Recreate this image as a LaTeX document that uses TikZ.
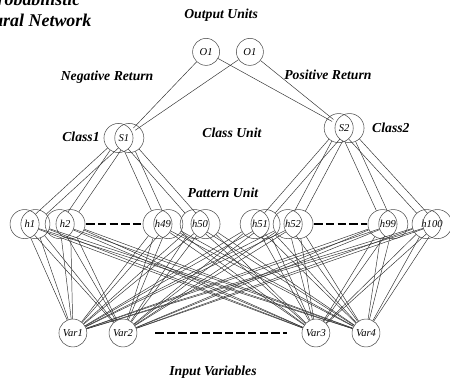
\documentclass[tikz,border=0pt]{standalone}
\usepackage{fontspec}
\setmainfont{Liberation Serif}
\usetikzlibrary{positioning}

\tikzset{
    unit/.style={shape=circle, draw=black!70, line width=0.5pt, minimum size=0.97cm, inner sep=0pt, font=\fontsize{10}{12}\selectfont\itshape},
    pairlabel/.style={shape=circle, minimum size=0.9cm, inner sep=0pt, font=\fontsize{10}{12}\selectfont\itshape},
    caption/.style={font=\fontsize{13}{15}\selectfont\bfseries\itshape},
    titletext/.style={font=\fontsize{17}{20}\selectfont\bfseries\itshape, anchor=base east},
    link/.style={draw=black!80, line width=0.45pt},
    gap/.style={line width=1.6pt, dash pattern=on 8pt off 3pt},
}

% two overlapping circles with one label: name, x, y, text
\newcommand{\pairnode}[4]{
    \node[pairlabel] (#1) at (#2,#3) {#4};
    \node[unit] (#1l) at ([xshift=-1.8mm]#1) {};
    \node[unit] (#1r) at ([xshift=1.8mm]#1) {};
}

\begin{document}
\begin{tikzpicture}
    \useasboundingbox (0,0) rectangle (15,-12.83);

    % captions
    \node[titletext] (title1) at (2.8,-0.17) {Probabilistic};
    \node[titletext] (title2) at (3.17,-0.88) {Neural Network};
    \node[caption] (outlabel) at (7.37,-0.5) {Output Units};
    \node[caption] (neglabel) at (3.57,-2.57) {Negative Return};
    \node[caption] (poslabel) at (10.93,-2.5) {Positive Return};
    \node[caption] (class1) at (2.7,-4.57) {Class1};
    \node[caption] (classunit) at (7.73,-4.43) {Class Unit};
    \node[caption] (class2) at (13.03,-4.27) {Class2};
    \node[caption] (patternunit) at (7.43,-6.43) {Pattern Unit};
    \node[caption] (inlabel) at (7.1,-12.4) {Input Variables};

    % output units
    \node[unit, minimum size=0.9cm] (O1a) at (6.87,-1.73) {O1};
    \node[unit, minimum size=0.9cm] (O1b) at (8.33,-1.73) {O1};

    % class units
    \pairnode{S1}{4.13}{-4.6}{S1}
    \pairnode{S2}{11.47}{-4.27}{S2}

    % pattern units
    \pairnode{h1}{1.0}{-7.47}{h1}
    \pairnode{h2}{2.17}{-7.47}{h2}
    \pairnode{h49}{5.43}{-7.47}{h49}
    \pairnode{h50}{6.67}{-7.47}{h50}
    \pairnode{h51}{8.67}{-7.47}{h51}
    \pairnode{h52}{9.77}{-7.47}{h52}
    \pairnode{h99}{12.93}{-7.47}{h99}
    \pairnode{h100}{14.4}{-7.47}{h100}

    % input variables
    \node[unit, minimum size=0.93cm] (V1) at (2.43,-11.1) {Var1};
    \node[unit, minimum size=0.93cm] (V2) at (4.1,-11.1) {Var2};
    \node[unit, minimum size=0.93cm] (V3) at (10.53,-11.1) {Var3};
    \node[unit, minimum size=0.93cm] (V4) at (12.2,-11.1) {Var4};

    % dashes for the units left out
    \draw[gap, shorten <=1pt, shorten >=1pt] (h2r) -- (h49l);
    \draw[gap, shorten <=1pt, shorten >=1pt] (h52r) -- (h99l);
    \draw[gap, shorten <=0.6cm, shorten >=0.5cm] (V2) -- (V3);

    % output to class
    \path[link] (O1a) edge (S1) (O1a) edge (S2);
    \path[link] (O1b) edge (S1) (O1b) edge (S2);

    % class to pattern
    \foreach \h in {h1,h2,h49,h50}
        \path[link] (S1l) edge (\h l) (S1r) edge (\h r);
    \foreach \h in {h51,h52,h99,h100}
        \path[link] (S2l) edge (\h l) (S2r) edge (\h r);

    % pattern to input
    \foreach \h in {h1,h2,h49,h50,h51,h52,h99,h100}
        \foreach \v in {V1,V2,V3,V4}
            \path[link] (\h l) edge (\v) (\h r) edge (\v);
\end{tikzpicture}
\end{document}
